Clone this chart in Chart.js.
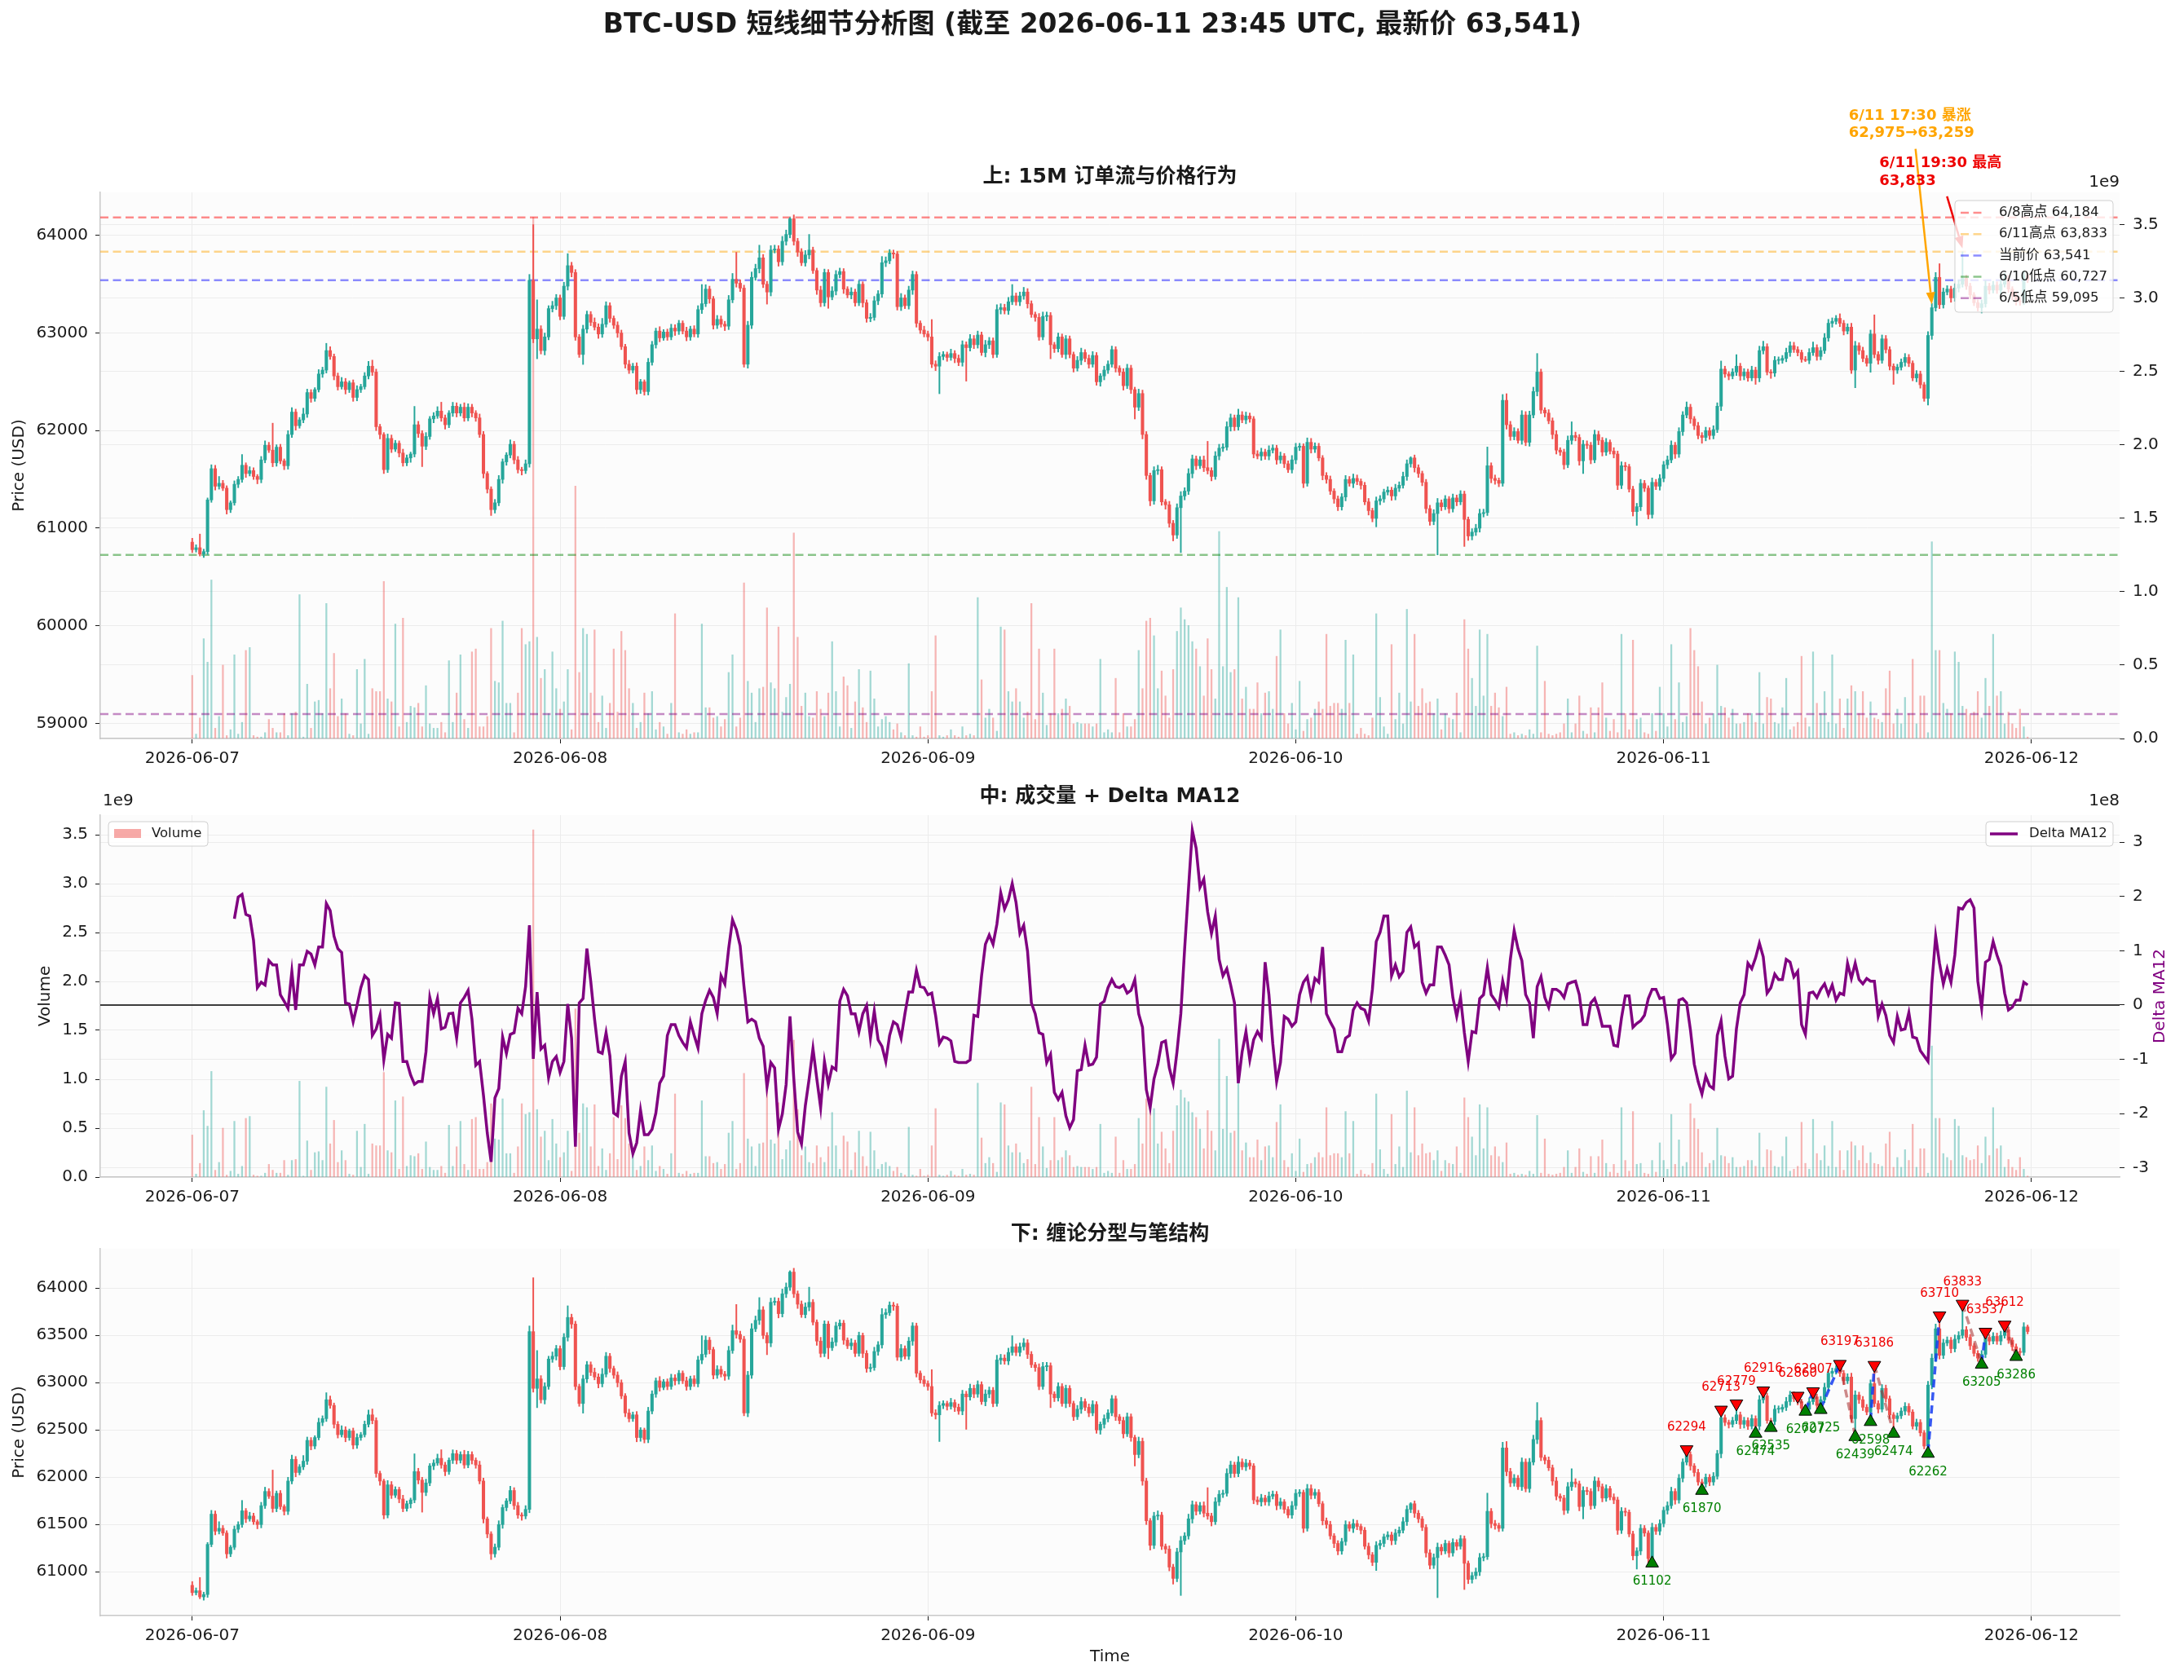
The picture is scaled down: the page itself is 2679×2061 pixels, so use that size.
<!DOCTYPE html>
<html>
<head>
<meta charset="utf-8">
<title>BTC-USD 短线细节分析图</title>
<script src="https://cdn.jsdelivr.net/npm/chart.js@4.4.1/dist/chart.umd.min.js"></script>
<style>
  body { margin: 0; background: #ffffff; }
  #wrap { position: relative; width: 2679px; height: 2061px; }
  #wrap canvas { position: absolute; left: 0; }
</style>
</head>
<body>
<div id="wrap">
  <canvas id="c_top" width="2679" height="990" style="top:0px"></canvas>
  <canvas id="c_mid" width="2679" height="590" style="top:940px"></canvas>
  <canvas id="c_bot" width="2679" height="581" style="top:1480px"></canvas>
</div>
<script>
/* ---------- data: 15M candles, 2026-06-07 00:00 .. 2026-06-11 23:45 (index 0..479) ---------- */
const firstOpen = 60857;
const closes = [
  60780,60800,60735,60760,61290,61610,61430,61460,61410,61190,61260,61450,
  61500,61645,61560,61590,61530,61500,61700,61850,61800,61670,61830,61690,
  61640,61960,62190,62050,62110,62170,62390,62330,62420,62580,62620,62820,
  62760,62560,62450,62500,62420,62490,62340,62420,62450,62560,62660,62600,
  62040,61960,61600,61920,61810,61870,61770,61670,61720,61760,62060,61970,
  61840,61940,62120,62150,62200,62130,62060,62180,62250,62180,62240,62130,
  62240,62180,62130,61960,61560,61400,61190,61260,61500,61680,61750,61860,
  61700,61600,61590,61660,63540,62940,63040,62820,62960,63250,63280,63360,
  63170,63480,63690,63620,62960,62780,63040,63190,63110,63060,62990,63090,
  63280,63150,63080,63000,62860,62680,62620,62660,62420,62500,62400,62700,
  62880,63020,62950,63010,62960,63050,63020,63100,63020,62960,63040,62990,
  63240,63300,63450,63350,63080,63140,63090,63070,63340,63550,63510,63460,
  62680,63080,63570,63660,63770,63500,63420,63850,63860,63730,63940,64010,
  64170,63940,63830,63720,63800,63850,63640,63440,63310,63620,63370,63430,
  63600,63630,63450,63390,63420,63310,63500,63310,63150,63160,63330,63400,
  63720,63740,63820,63810,63270,63360,63280,63440,63600,63100,63030,62990,
  62960,62680,62660,62760,62780,62750,62790,62740,62700,62880,62850,62940,
  62880,62980,62800,62880,62920,62780,63240,63260,63230,63320,63380,63320,
  63380,63420,63300,63190,63160,62960,63170,63180,62880,62840,62960,62780,
  62940,62780,62640,62720,62800,62740,62680,62770,62500,62560,62620,62680,
  62830,62640,62600,62460,62640,62420,62240,62380,61960,61540,61280,61590,
  61600,61270,61240,61050,60930,61210,61330,61380,61560,61710,61640,61700,
  61620,61590,61530,61740,61820,61830,62040,62130,62040,62160,62110,62150,
  62120,61760,61740,61780,61740,61800,61820,61700,61740,61660,61600,61700,
  61830,61840,61460,61880,61810,61840,61720,61540,61500,61380,61300,61220,
  61320,61500,61460,61510,61480,61440,61270,61180,61100,61280,61300,61370,
  61390,61330,61410,61440,61530,61660,61720,61620,61560,61470,61200,61070,
  61150,61260,61220,61300,61200,61310,61270,61350,61090,60920,60960,61000,
  61150,61160,61640,61510,61490,61460,62310,62060,61940,61990,61900,62160,
  61880,62160,62400,62600,62210,62180,62100,61960,61800,61780,61650,61900,
  61950,61930,61690,61860,61850,61700,61960,61900,61780,61880,61790,61760,
  61440,61640,61630,61400,61170,61220,61460,61410,61140,61470,61430,61510,
  61650,61700,61850,61760,61990,62160,62240,62120,62050,61950,61930,62000,
  61950,62010,62250,62630,62580,62560,62600,62660,62560,62600,62540,62620,
  62540,62820,62860,62600,62590,62720,62720,62740,62800,62870,62830,62800,
  62730,62720,62800,62850,62760,62820,62950,63100,63120,63150,63100,63020,
  63060,62620,62870,62820,62740,62690,62990,62780,62720,62940,62830,62660,
  62620,62650,62700,62750,62690,62540,62580,62470,62330,62975,63259,63570,
  63290,63420,63450,63360,63460,63500,63560,63480,63390,63310,63260,63300,
  63480,63440,63490,63440,63500,63560,63450,63380,63330,63320,63590,63541
];
// upper / lower shadow length above max(open,close) and below min(open,close), USD
const wickUp = [
  40,30,140,25,20,40,35,70,30,25,20,35,  30,110,25,40,30,20,35,45,30,276,25,30,
  20,40,45,30,25,60,35,30,20,45,30,74,   40,25,30,45,35,20,30,40,25,35,50,62,
  30,25,20,45,35,30,25,40,30,20,188,35,  30,40,25,35,45,91,30,25,40,35,30,45,
  35,30,25,40,30,20,25,35,40,30,25,45,   30,35,25,40,60,570,300,35,40,30,45,35,
  30,40,123,35,30,25,40,35,30,45,35,60,  40,30,25,35,30,25,40,30,35,25,20,40,
  35,30,45,25,30,40,35,30,25,40,30,35,   40,197,45,30,25,40,35,30,45,60,277,35,
  30,40,55,45,130,35,30,45,40,35,50,45,  14,40,30,35,45,160,30,25,40,35,30,45,
  40,35,30,25,45,30,35,25,30,40,45,35,   64,40,35,30,25,45,30,40,35,30,25,40,
  30,178,35,40,30,25,45,30,35,40,30,45,  35,40,30,45,35,30,50,40,35,45,117,30,
  40,48,35,30,25,40,45,35,30,25,40,30,   35,30,25,40,45,30,35,40,30,25,40,35,
  36,30,25,35,40,30,25,45,35,30,25,40,   45,30,25,35,30,40,45,35,50,40,30,35,
  40,270,30,45,40,35,50,40,30,60,35,40,  30,25,35,40,30,45,35,30,40,25,30,45,
  40,30,25,45,40,35,30,25,30,35,25,30,   35,40,30,45,35,25,30,35,25,40,35,30,
  35,30,40,35,45,40,12,30,30,25,30,35,   40,45,30,35,25,40,30,35,30,25,35,40,
  45,35,192,30,35,25,60,68,35,40,30,45,  35,40,45,190,30,25,35,30,40,25,30,45,
  140,35,30,40,35,30,45,35,30,40,25,35,  30,40,35,25,30,35,40,30,25,45,30,40,
  35,40,45,30,40,35,54,30,25,35,30,35,   30,40,35,83,30,25,35,119,30,35,30,40,
  30,45,56,30,25,40,35,30,45,40,35,30,   25,30,40,57,30,35,45,40,35,30,47,30,
  35,40,45,30,35,30,40,196,30,40,35,30,  25,30,35,40,30,25,35,30,25,40,45,50,
  140,40,35,30,45,40,273,35,30,25,30,40, 57,30,40,35,45,52,30,25,30,35,45,20
];
const wickDn = [
  30,25,20,35,30,25,40,30,25,45,30,25,   35,30,40,25,30,45,35,30,25,40,35,30,
  40,35,30,45,25,30,35,40,30,25,35,30,   30,40,35,25,45,30,40,35,30,25,30,35,
  40,45,40,30,35,25,40,35,30,45,30,40,   209,35,30,40,25,35,45,30,35,40,30,35,
  30,40,35,30,45,40,60,35,30,40,35,30,   40,35,45,30,35,40,204,35,45,30,35,40,
  35,30,40,45,35,30,102,40,35,30,45,35,  30,40,35,45,30,40,35,30,45,40,37,35,
  30,35,40,25,35,30,45,35,30,40,35,30,   35,40,30,45,40,35,30,45,35,30,40,35,
  30,40,35,30,45,35,124,40,30,45,35,40,  35,40,45,30,35,40,30,45,40,35,117,30,
  40,35,45,30,40,35,30,45,40,35,30,40,   35,40,30,45,35,40,30,35,45,40,35,30,
  40,35,45,282,35,40,30,45,35,40,343,35, 40,35,30,45,40,35,30,45,35,40,30,35,
  40,35,45,30,40,35,30,45,144,40,35,30,  45,35,40,30,45,35,40,30,35,45,40,35,
  30,40,35,45,30,40,121,35,45,40,50,35,  40,35,45,40,60,35,460,40,35,45,40,30,
  40,35,45,30,40,35,30,45,40,35,30,40,   35,40,30,45,35,40,30,45,35,40,30,35,
  40,35,45,30,40,35,30,45,40,35,45,40,   35,40,30,45,35,40,30,45,35,86,40,35,
  30,45,40,35,30,40,35,45,40,35,45,40,   35,423,40,30,45,35,40,30,277,45,40,35,
  40,35,30,45,40,35,30,45,40,35,30,40,   35,40,30,45,35,40,30,45,40,35,45,30,
  40,35,45,130,35,40,30,45,40,35,30,40,  45,35,40,30,45,141,40,35,45,38,35,40,
  35,40,30,45,35,40,30,45,40,35,60,35,   40,35,30,45,35,40,30,35,45,40,35,30,
  66,40,35,30,55,35,40,30,35,40,30,35,   30,13,35,30,40,35,30,35,40,30,35,40,
  30,35,181,40,35,30,92,35,40,30,35,40,  146,35,30,40,35,30,40,35,30,68,40,35,
  40,35,30,45,35,40,30,35,40,30,35,55,   35,40,30,35,40,30,35,40,44,35,30,25
];
// volume per candle, in units of 1e8
const volume = [
  4.3,0.3,1.4,6.8,5.2,10.8,0.7,1.5,5.0,0.2,0.6,5.7,  0.3,1.1,6.0,6.2,0.2,0.1,0.1,0.4,1.3,0.7,0.4,0.4,
  1.7,0.2,1.7,1.8,9.8,0.1,3.7,0.7,2.5,2.6,1.7,9.2,   3.4,5.8,1.5,2.7,1.7,0.3,0.2,4.7,1.0,5.4,0.3,3.4,
  3.2,3.2,10.7,2.7,2.5,7.8,0.8,8.2,1.1,2.2,2.1,2.4,  0.8,3.6,1.0,0.7,0.7,1.1,0.4,5.3,1.1,3.1,5.7,1.3,
  0.7,5.9,6.1,0.8,0.8,1.5,7.5,3.9,3.8,8.0,2.4,2.4,   0.4,3.1,7.5,6.4,6.6,35.5,6.9,4.1,4.7,1.7,5.9,3.4,
  2.0,2.5,4.7,0.6,17.2,4.5,7.5,7.1,3.1,7.4,1.1,2.9,  0.7,2.4,6.1,1.8,7.3,6.0,3.4,2.4,0.7,1.1,3.1,1.7,
  3.2,0.6,1.1,0.8,0.3,2.4,8.5,0.4,0.3,0.6,0.3,0.4,   0.4,7.8,2.1,2.1,1.4,1.5,0.8,1.3,4.5,5.7,0.8,1.4,
  10.6,3.9,3.1,1.1,3.4,3.5,8.9,3.8,3.4,7.6,1.8,2.8,  3.7,14.0,6.9,2.2,3.1,1.5,1.4,3.2,2.0,1.5,3.1,6.6,
  3.2,0.8,4.2,3.6,0.7,2.5,4.7,2.1,1.1,4.6,2.7,0.8,   1.3,1.5,1.1,0.6,1.0,0.4,0.2,5.1,0.2,0.1,0.8,0.1,
  0.2,3.2,7.0,0.2,0.1,0.2,0.6,0.2,0.1,0.8,0.2,0.3,   0.2,9.6,4.0,1.4,2.0,1.4,0.5,7.6,7.4,3.2,2.5,3.4,
  2.5,1.4,1.8,9.2,1.3,6.1,3.1,0.9,1.7,6.1,1.7,2.0,   2.7,2.2,1.0,1.1,1.0,1.0,1.0,0.8,1.0,5.4,0.4,0.6,
  0.4,4.1,0.4,1.7,0.8,0.8,1.3,6.0,3.4,8.0,8.2,7.0,   3.4,4.6,2.9,1.4,4.7,7.3,8.9,8.1,7.7,6.6,6.1,4.9,
  2.9,6.8,4.7,2.7,14.1,4.9,10.3,4.5,4.7,9.6,2.7,3.5, 2.0,2.0,3.8,1.7,3.1,3.2,2.0,5.6,7.4,1.7,1.0,2.4,
  0.6,3.9,0.5,1.3,1.4,2.0,2.5,2.0,7.1,2.2,2.4,2.4,   2.0,6.7,2.4,5.7,0.3,0.7,0.3,0.2,1.4,8.5,2.8,0.8,
  0.3,6.4,1.3,3.1,1.0,8.8,2.5,7.1,2.2,3.4,2.4,2.5,   1.7,2.7,0.6,1.7,1.4,1.3,3.1,0.4,8.1,6.1,4.1,2.2,
  7.4,2.9,7.1,2.2,3.1,2.1,1.5,3.5,0.3,0.4,0.2,0.3,   0.2,0.6,0.3,6.3,0.4,3.9,0.3,0.2,0.3,0.4,1.0,2.7,
  0.4,1.0,2.9,0.5,0.3,2.1,0.4,2.1,3.8,1.4,0.5,1.3,   0.4,7.1,1.7,0.6,6.7,1.3,1.4,0.4,0.3,1.7,0.5,3.5,
  1.7,0.8,6.4,1.3,3.8,1.1,1.5,7.5,6.0,4.9,2.5,1.0,   1.4,1.7,5.0,2.2,2.1,1.4,2.0,1.0,1.0,1.1,1.7,1.7,
  1.1,4.5,1.0,2.8,2.7,1.1,1.0,2.1,4.1,0.6,0.8,1.1,   5.6,1.4,0.8,5.9,2.4,1.7,3.2,1.1,5.7,1.0,2.7,0.7,
  2.7,3.6,3.2,1.7,3.2,1.4,2.5,1.4,1.3,1.1,3.4,4.6,   1.0,2.0,1.0,2.8,1.7,5.4,1.0,2.9,2.9,0.4,13.4,6.0,
  6.0,2.4,2.0,1.7,5.9,5.2,2.2,2.0,1.7,1.8,3.2,1.4,   4.1,2.2,7.1,2.9,3.2,1.0,1.8,1.0,0.7,2.0,0.8,0.1
];
// Delta MA12, units of 1e8, starts at candle 11
const DELTA_START = 11;
const deltaMA12 = [
  1.59,1.99,2.04,1.67,1.64,1.19,0.32,0.42,0.37,0.82,0.74,0.74,
  0.19,0.07,-0.06,0.62,-0.09,0.74,0.74,0.99,0.94,0.74,1.07,1.07,
  1.87,1.74,1.27,1.04,0.97,0.04,0.02,-0.31,-0.01,0.32,0.54,0.47,
  -0.56,-0.44,-0.19,-1.01,-0.54,-0.61,0.04,0.03,-1.04,-1.04,-1.29,-1.46,
  -1.41,-1.41,-0.86,0.14,-0.16,0.12,-0.44,-0.41,-0.16,-0.15,-0.61,0.04,
  0.14,0.27,-0.26,-1.11,-1.04,-1.66,-2.36,-2.89,-1.71,-1.54,-0.59,-0.89,
  -0.54,-0.51,-0.06,-0.16,0.34,1.47,-0.99,0.24,-0.81,-0.74,-1.34,-1.04,
  -0.95,-1.24,-1.04,0.02,-0.61,-2.61,0.04,0.12,1.04,0.44,-0.26,-0.86,
  -0.89,-0.51,-0.94,-1.99,-2.04,-1.31,-1.04,-2.36,-2.74,-2.54,-1.94,-2.39,
  -2.39,-2.29,-1.99,-1.44,-1.31,-0.56,-0.36,-0.36,-0.56,-0.69,-0.79,-0.31,
  -0.56,-0.79,-0.16,0.09,0.27,0.14,-0.16,0.54,0.39,1.04,1.57,1.39,
  1.09,0.34,-0.31,-0.26,-0.31,-0.61,-0.76,-1.51,-1.06,-1.16,-2.29,-2.01,
  -1.46,-0.21,-1.36,-2.34,-2.56,-1.86,-1.36,-0.80,-1.36,-1.89,-1.04,-1.46,
  -1.14,-1.19,0.07,0.29,0.17,-0.16,-0.16,-0.49,-0.16,-0.01,-0.61,-0.11,
  -0.64,-0.76,-1.04,-0.56,-0.31,-0.36,-0.61,-0.16,0.24,0.24,0.64,0.34,
  0.32,0.19,0.22,-0.19,-0.71,-0.59,-0.61,-0.66,-1.04,-1.06,-1.06,-1.06,
  -1.01,-0.19,-0.21,0.54,1.12,1.29,1.12,1.49,2.07,1.77,1.94,2.24,
  1.89,1.32,1.47,0.99,0.04,-0.16,-0.51,-0.54,-1.06,-0.91,-1.61,-1.74,
  -1.61,-2.04,-2.26,-2.11,-1.21,-1.19,-0.74,-1.11,-1.09,-0.96,0.02,0.07,
  0.32,0.47,0.34,0.32,0.37,0.22,0.27,0.47,-0.16,-0.41,-1.56,-1.89,
  -1.36,-1.09,-0.69,-0.66,-1.16,-1.44,-0.86,-0.16,1.04,2.14,3.22,2.89,
  2.17,2.32,1.72,1.32,1.64,0.84,0.54,0.67,0.37,0.04,-1.44,-0.86,
  -0.49,-1.01,-0.64,-0.49,-0.61,0.79,0.19,-0.71,-1.41,-1.06,-0.21,-0.26,
  -0.39,-0.31,0.19,0.42,0.52,0.14,0.49,0.42,1.07,-0.16,-0.31,-0.44,
  -0.86,-0.86,-0.61,-0.56,-0.09,0.04,-0.06,-0.09,-0.29,0.29,1.17,1.34,
  1.64,1.64,0.54,0.74,0.52,0.62,1.34,1.44,1.07,1.14,0.42,0.22,
  0.37,0.37,1.07,1.07,0.92,0.74,0.14,-0.21,0.14,-0.51,-1.04,-0.49,
  -0.51,0.12,0.19,0.69,0.19,0.09,-0.04,0.44,0.12,0.84,1.37,1.04,
  0.82,0.19,0.04,-0.61,0.34,0.52,0.14,-0.04,0.29,0.29,0.24,0.14,
  0.39,0.42,0.44,0.19,-0.36,-0.36,0.04,0.12,-0.09,-0.39,-0.39,-0.39,
  -0.74,-0.76,-0.24,0.17,0.17,-0.41,-0.34,-0.29,-0.19,0.12,0.29,0.29,
  0.12,0.14,-0.36,-0.99,-0.89,0.09,0.12,0.04,-0.46,-1.09,-1.41,-1.64,
  -1.31,-1.49,-1.54,-0.56,-0.29,-0.94,-1.36,-1.31,-0.44,0.04,0.19,0.77,
  0.67,0.87,1.14,0.89,0.22,0.32,0.57,0.47,0.47,0.84,0.79,0.52,
  0.62,-0.36,-0.54,0.22,0.24,0.14,0.29,0.39,0.19,0.37,0.09,0.22,
  0.19,0.77,0.49,0.77,0.47,0.39,0.49,0.44,0.44,-0.21,0.02,-0.19,
  -0.56,-0.69,-0.21,-0.46,-0.44,-0.14,-0.59,-0.61,-0.84,-0.94,-1.04,0.39,
  1.27,0.77,0.39,0.67,0.42,0.92,1.79,1.77,1.89,1.94,1.79,0.44,
  -0.06,0.79,0.84,1.17,0.92,0.72,0.22,-0.09,-0.04,0.09,0.09,0.42,
  0.37
];

// key levels (upper panel)
const levelNames  = ['6/8高点', '6/11高点', '当前价', '6/10低点', '6/5低点'];
const levelValues = [64184, 63833, 63541, 60727, 59095];

// fractals (缠论分型)
const topIdx = [390, 399, 403, 410, 419, 423, 430, 439, 456, 462, 468, 473];
const topVal = [62294, 62713, 62779, 62916, 62860, 62907, 63197, 63186, 63710, 63833, 63537, 63612];
const botIdx = [381, 394, 408, 412, 421, 425, 434, 438, 444, 453, 467, 476];
const botVal = [61102, 61870, 62474, 62535, 62707, 62725, 62439, 62598, 62474, 62262, 63205, 63286];
// strokes (笔) between fractals
const penFrom = [419, 421, 423, 425, 430, 438, 439, 453, 462, 467, 473];
const penTo   = [421, 423, 425, 430, 434, 439, 444, 456, 467, 468, 476];

// annotations
const surgeIdx = 454, surgeFrom = 62975, surgeTo = 63259;
const peakIdx = 462, peakVal = 63833;

const dayTicks  = [0, 96, 192, 288, 384, 480];
const dayLabels = ['2026-06-07', '2026-06-08', '2026-06-09', '2026-06-10', '2026-06-11', '2026-06-12'];

/* ---------- derived ---------- */
const opens = closes.map((c, i) => i === 0 ? firstOpen : closes[i - 1]);
const highs = closes.map((c, i) => Math.max(opens[i], c) + wickUp[i]);
const lows  = closes.map((c, i) => Math.min(opens[i], c) - wickDn[i]);
const isUp  = closes.map((c, i) => c >= opens[i]);

/* ---------- style ---------- */
const FAM = '"DejaVu Sans", "Noto Sans CJK SC", sans-serif';
const INK = '#1a1a1a';
const GRID = '#ececec';
const SPINE = '#c8c8c8';
const UP = '#26a69a', DN = '#ef5350';
const UP_A = 'rgba(38,166,154,0.42)', DN_A = 'rgba(239,83,80,0.42)';
const levelColors = ['rgba(255,0,0,0.45)', 'rgba(255,165,0,0.45)', 'rgba(0,0,255,0.45)',
                     'rgba(0,128,0,0.45)', 'rgba(128,0,128,0.45)'];
const X_MIN = -24, X_MAX = 503;

function drawText(ctx, s, x, y, size, o = {}) {
  ctx.save();
  ctx.font = (o.bold ? 'bold ' : '') + size + 'px ' + FAM;
  ctx.fillStyle = o.color || INK;
  ctx.textAlign = o.align || 'center';
  ctx.textBaseline = o.base || 'middle';
  ctx.translate(x, y);
  if (o.rot) ctx.rotate(o.rot);
  ctx.fillText(s, 0, 0);
  ctx.restore();
}

function legendFrame(ctx, x, y, w, h) {
  ctx.save();
  ctx.fillStyle = 'rgba(255,255,255,0.8)';
  ctx.strokeStyle = '#d0d0d0';
  ctx.lineWidth = 1;
  ctx.beginPath();
  ctx.roundRect(x, y, w, h, 4);
  ctx.fill();
  ctx.stroke();
  ctx.restore();
}

function arrow(ctx, x0, y0, x1, y1, color) {
  const a = Math.atan2(y1 - y0, x1 - x0), hl = 15, hw = 5.5;
  const bx = x1 - hl * Math.cos(a), by = y1 - hl * Math.sin(a);
  ctx.save();
  ctx.strokeStyle = color; ctx.fillStyle = color; ctx.lineWidth = 2.5;
  ctx.beginPath(); ctx.moveTo(x0, y0); ctx.lineTo(bx, by); ctx.stroke();
  ctx.beginPath();
  ctx.moveTo(x1, y1);
  ctx.lineTo(bx + hw * Math.sin(a), by - hw * Math.cos(a));
  ctx.lineTo(bx - hw * Math.sin(a), by + hw * Math.cos(a));
  ctx.closePath(); ctx.fill();
  ctx.restore();
}

const areaBg = {
  id: 'areaBg',
  beforeDraw(chart) {
    const a = chart.chartArea, ctx = chart.ctx;
    ctx.save(); ctx.fillStyle = '#fcfcfc';
    ctx.fillRect(a.left, a.top, a.right - a.left, a.bottom - a.top);
    ctx.restore();
  }
};

function xAxis(h) {
  return {
    type: 'linear', min: X_MIN, max: X_MAX, offset: false,
    afterBuildTicks: s => { s.ticks = dayTicks.map(v => ({ value: v })); },
    afterFit: s => { s.height = h; },
    ticks: { font: { family: FAM, size: 20 }, color: INK, padding: 7, maxRotation: 0, autoSkip: false,
             callback: v => dayLabels[dayTicks.indexOf(v)] },
    grid: { offset: false, color: GRID, lineWidth: 1, tickColor: INK, tickLength: 6 },
    border: { color: SPINE, width: 1.5 }
  };
}

function yAxis(pos, min, max, tickVals, fmt, w, border) {
  return {
    type: 'linear', position: pos, min: min, max: max,
    afterBuildTicks: s => { s.ticks = tickVals.map(v => ({ value: v })); },
    afterFit: s => { s.width = w; },
    ticks: { font: { family: FAM, size: 20 }, color: INK, padding: pos === 'left' ? 9 : 10, callback: fmt },
    grid: { color: GRID, lineWidth: 1, tickColor: INK, tickLength: 6 },
    border: { display: border, color: SPINE, width: 1.5 }
  };
}

function candleSets() {
  return [
    { type: 'bar', data: closes.map((c, i) => ({ x: i, y: [lows[i], highs[i]] })),
      backgroundColor: isUp.map(u => u ? UP : DN), grouped: false, barThickness: 1.3,
      yAxisID: 'y', order: 3 },
    { type: 'bar', data: closes.map((c, i) => ({ x: i, y: [opens[i], c] })),
      backgroundColor: isUp.map(u => u ? UP : DN), grouped: false, barThickness: 3.4,
      minBarLength: 1, yAxisID: 'y', order: 2 }
  ];
}

function volumeSet(axis) {
  return { type: 'bar', data: volume.map((v, i) => ({ x: i, y: v })),
    backgroundColor: isUp.map(u => u ? UP_A : DN_A), grouped: false, barThickness: 1.6,
    yAxisID: axis, order: 10 };
}

const baseOpts = {
  responsive: false, animation: false, devicePixelRatio: 1, events: [],
  plugins: { legend: { display: false }, tooltip: { enabled: false } }
};
const volFmt = v => (v / 10).toFixed(1);

/* ---------- upper panel ---------- */
const TOP1 = 0;
new Chart(document.getElementById('c_top'), {
  type: 'bar',
  data: {
    datasets: [
      volumeSet('y1'),
      ...candleSets(),
      ...levelValues.map((v, k) => ({
        type: 'line', data: [{ x: X_MIN, y: v }, { x: X_MAX, y: v }], yAxisID: 'y',
        borderColor: levelColors[k], borderWidth: 2.5, borderDash: [10, 5.5], pointRadius: 0, order: 4
      }))
    ]
  },
  options: Object.assign({}, baseOpts, {
    layout: { padding: { top: 236, left: 0, right: 0, bottom: 0 }, autoPadding: false },
    scales: {
      x: xAxis(84),
      y: yAxis('left', 58845, 64441, [59000, 60000, 61000, 62000, 63000, 64000], v => String(v), 123, true),
      y1: yAxis('right', 0, 37.2, [0, 5, 10, 15, 20, 25, 30, 35], volFmt, 79, false)
    }
  }),
  plugins: [areaBg, {
    id: 'decorTop',
    afterDraw(chart) {
      const ctx = chart.ctx, a = chart.chartArea, xs = chart.scales.x, ys = chart.scales.y;
      const cx = (a.left + a.right) / 2;
      drawText(ctx, 'BTC-USD 短线细节分析图 (截至 2026-06-11 23:45 UTC, 最新价 ' +
        closes[closes.length - 1].toLocaleString('en-US') + ')', 1340, 31 - TOP1, 33, { bold: true });
      drawText(ctx, '上: 15M 订单流与价格行为', cx, 217 - TOP1, 25, { bold: true });
      drawText(ctx, 'Price (USD)', 24, (a.top + a.bottom) / 2, 20, { rot: -Math.PI / 2 });
      drawText(ctx, '1e9', 2600, 224 - TOP1, 20, { align: 'right' });

      // surge annotation
      const sx = xs.getPixelForValue(surgeIdx), sy = ys.getPixelForValue(surgeTo);
      drawText(ctx, '6/11 17:30 暴涨', sx - 102, sy - 235, 18, { bold: true, color: '#ffa500', align: 'left' });
      drawText(ctx, surgeFrom.toLocaleString('en-US') + '→' + surgeTo.toLocaleString('en-US'),
               sx - 102, sy - 214, 18, { bold: true, color: '#ffa500', align: 'left' });
      arrow(ctx, sx - 20, sy - 195, sx, sy - 4, '#ffa500');
      // peak annotation
      const px = xs.getPixelForValue(peakIdx), py = ys.getPixelForValue(peakVal);
      drawText(ctx, '6/11 19:30 最高', px - 102, py - 108, 18, { bold: true, color: '#ee0000', align: 'left' });
      drawText(ctx, peakVal.toLocaleString('en-US'), px - 102, py - 86, 18, { bold: true, color: '#ee0000', align: 'left' });
      arrow(ctx, px - 19, py - 68, px, py - 4, '#ee0000');

      // legend
      legendFrame(ctx, 2398, 246 - TOP1, 194, 137);
      levelValues.forEach((v, k) => {
        const ly = 261 + k * 26.2 - TOP1;
        ctx.save();
        ctx.strokeStyle = levelColors[k]; ctx.lineWidth = 2.5; ctx.setLineDash([10, 5.5]);
        ctx.beginPath(); ctx.moveTo(2405, ly); ctx.lineTo(2434, ly); ctx.stroke();
        ctx.restore();
        drawText(ctx, levelNames[k] + ' ' + v.toLocaleString('en-US'), 2452, ly, 16.5, { align: 'left' });
      });
    }
  }]
});

/* ---------- middle panel ---------- */
const TOP2 = 940;
new Chart(document.getElementById('c_mid'), {
  type: 'bar',
  data: {
    datasets: [
      volumeSet('y'),
      { type: 'line', data: [{ x: X_MIN, y: 0 }, { x: X_MAX, y: 0 }], yAxisID: 'y1',
        borderColor: '#000000', borderWidth: 1.5, pointRadius: 0, order: 2 },
      { type: 'line', data: deltaMA12.map((v, k) => ({ x: k + DELTA_START, y: v })), yAxisID: 'y1',
        borderColor: '#800080', borderWidth: 3.5, pointRadius: 0, tension: 0, order: 1 }
    ]
  },
  options: Object.assign({}, baseOpts, {
    layout: { padding: { top: 60, left: 0, right: 0, bottom: 0 }, autoPadding: false },
    scales: {
      x: xAxis(86),
      y: yAxis('left', 0, 37.0, [0, 5, 10, 15, 20, 25, 30, 35], volFmt, 123, true),
      y1: yAxis('right', -3.17, 3.5, [-3, -2, -1, 0, 1, 2, 3], v => String(v), 79, false)
    }
  }),
  plugins: [areaBg, {
    id: 'decorMid',
    afterDraw(chart) {
      const ctx = chart.ctx, a = chart.chartArea;
      const cx = (a.left + a.right) / 2, cy = (a.top + a.bottom) / 2;
      drawText(ctx, '中: 成交量 + Delta MA12', cx, 977 - TOP2, 25, { bold: true });
      drawText(ctx, 'Volume', 56, cy, 20, { rot: -Math.PI / 2 });
      drawText(ctx, 'Delta MA12', 2650, cy, 20, { rot: -Math.PI / 2, color: '#800080' });
      drawText(ctx, '1e9', 126, 983 - TOP2, 20, { align: 'left' });
      drawText(ctx, '1e8', 2600, 983 - TOP2, 20, { align: 'right' });

      legendFrame(ctx, 133, 1008 - TOP2, 122, 30);
      ctx.save(); ctx.fillStyle = 'rgba(239,83,80,0.5)';
      ctx.fillRect(140, 1017 - TOP2, 33, 11); ctx.restore();
      drawText(ctx, 'Volume', 186, 1023 - TOP2, 16.5, { align: 'left' });

      legendFrame(ctx, 2436, 1008 - TOP2, 156, 30);
      ctx.save(); ctx.strokeStyle = '#800080'; ctx.lineWidth = 3.5;
      ctx.beginPath(); ctx.moveTo(2441, 1023 - TOP2); ctx.lineTo(2475, 1023 - TOP2); ctx.stroke(); ctx.restore();
      drawText(ctx, 'Delta MA12', 2489, 1023 - TOP2, 16.5, { align: 'left' });
    }
  }]
});

/* ---------- lower panel ---------- */
const TOP3 = 1480;
const fractalVal = i => topIdx.includes(i) ? topVal[topIdx.indexOf(i)] : botVal[botIdx.indexOf(i)];
const penSets = penFrom.map((f, k) => {
  const t = penTo[k], vf = fractalVal(f), vt = fractalVal(t);
  return { type: 'line', data: [{ x: f, y: vf }, { x: t, y: vt }], yAxisID: 'y',
    borderColor: vt > vf ? 'rgba(20,60,240,0.85)' : 'rgba(165,42,42,0.55)',
    borderWidth: 3.5, borderDash: [10, 6], pointRadius: 0, order: 1 };
});

new Chart(document.getElementById('c_bot'), {
  type: 'bar',
  data: {
    datasets: [
      ...candleSets(),
      ...penSets,
      { type: 'line', showLine: false, data: topIdx.map((x, k) => ({ x: x, y: topVal[k] })), yAxisID: 'y',
        pointStyle: 'triangle', rotation: 180, pointRadius: 9, pointBackgroundColor: '#ff0000',
        pointBorderColor: '#000000', pointBorderWidth: 1, order: 0 },
      { type: 'line', showLine: false, data: botIdx.map((x, k) => ({ x: x, y: botVal[k] - 12 })), yAxisID: 'y',
        pointStyle: 'triangle', rotation: 0, pointRadius: 9, pointBackgroundColor: '#008000',
        pointBorderColor: '#000000', pointBorderWidth: 1, order: 0 }
    ]
  },
  options: Object.assign({}, baseOpts, {
    layout: { padding: { top: 52, left: 0, right: 79, bottom: 0 }, autoPadding: false },
    scales: {
      x: xAxis(79),
      y: yAxis('left', 60537, 64416, [61000, 61500, 62000, 62500, 63000, 63500, 64000], v => String(v), 123, true)
    }
  }),
  plugins: [areaBg, {
    id: 'decorBot',
    afterDraw(chart) {
      const ctx = chart.ctx, a = chart.chartArea, xs = chart.scales.x, ys = chart.scales.y;
      drawText(ctx, '下: 缠论分型与笔结构', (a.left + a.right) / 2, 1514 - TOP3, 25, { bold: true });
      drawText(ctx, 'Price (USD)', 24, (a.top + a.bottom) / 2, 20, { rot: -Math.PI / 2 });
      drawText(ctx, 'Time', (a.left + a.right) / 2, 2033 - TOP3, 20);
      topIdx.forEach((x, k) => {
        drawText(ctx, String(topVal[k]), xs.getPixelForValue(x), ys.getPixelForValue(topVal[k]) - 27, 15, { color: '#ee0000' });
      });
      botIdx.forEach((x, k) => {
        drawText(ctx, String(botVal[k]), xs.getPixelForValue(x), ys.getPixelForValue(botVal[k]) + 24, 15, { color: '#008000' });
      });
    }
  }]
});
</script>
</body>
</html>
